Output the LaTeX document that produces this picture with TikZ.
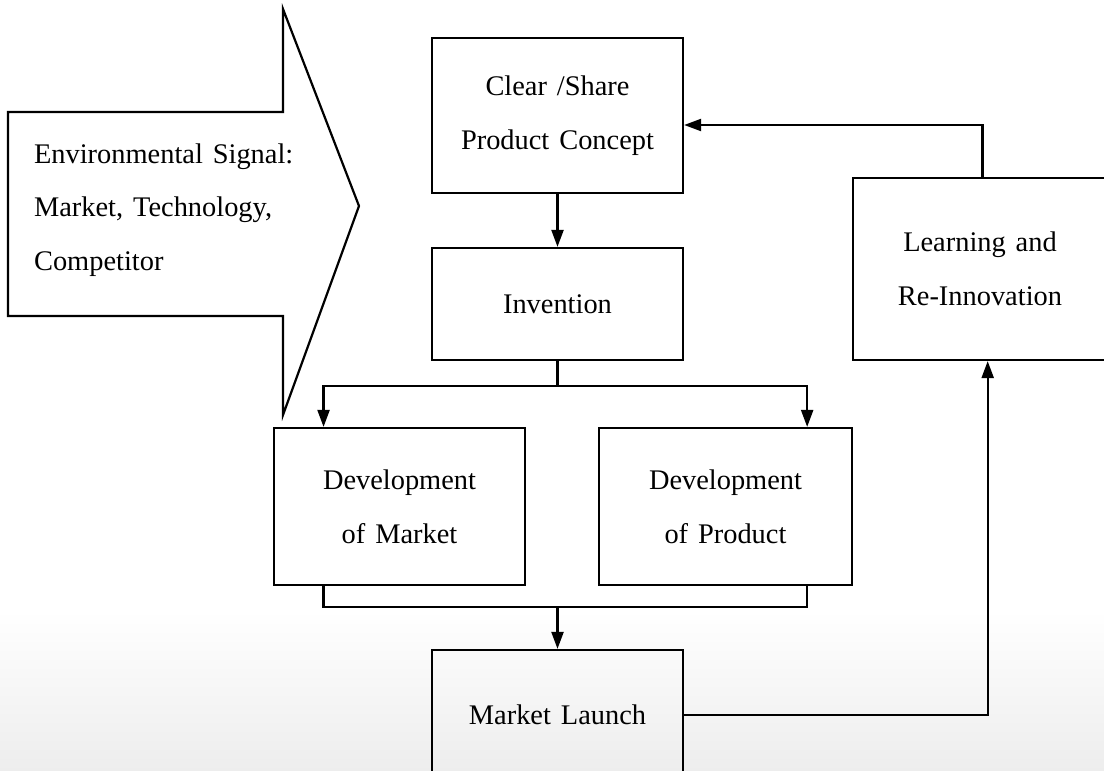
\documentclass[tikz,border=0pt]{standalone}
\usepackage{fontspec}
\setmainfont{Liberation Serif}[WordSpace=1.4]
\usetikzlibrary{arrows.meta,calc}

\begin{document}
\begin{tikzpicture}[
    x=0.5pt, y=-0.5pt,
    line width=1.1pt,
    txt/.style={font=\fontsize{14.2pt}{26.8pt}\selectfont, align=center},
    stagebox/.style={draw, rectangle, inner sep=0pt, txt},
    arr/.style={-{Triangle[length=8.5pt,width=6pt]}},
  ]
  % canvas and clipping frame
  \useasboundingbox (0,0) rectangle (1104,771);
  \clip (0,0) rectangle (1104,771);
  \fill[white] (0,0) rectangle (1104,771);
  \shade[top color=white, bottom color=black!7] (0,610) rectangle (1104,771);

  % environmental signal block arrow
  \draw (8,112) -- (283,112) -- (283,9) -- (359,206) -- (283,415)
        -- (283,316) -- (8,316) -- cycle;
  \node[txt, align=left, anchor=west, inner sep=0pt] (env) at (33,210)
    {Environmental Signal:\\Market, Technology,\\Competitor};

  % process stages (sizes in pt, half of the pixel sizes)
  \node[stagebox, minimum width=125.5pt, minimum height=77.5pt] (clear) at (557.5,115.5)
    {Clear /Share\\Product Concept};
  \node[stagebox, minimum width=125.5pt, minimum height=56pt] (inv) at (557.5,304)
    {Invention};
  \node[stagebox, minimum width=125.5pt, minimum height=78.5pt] (devm) at (399.5,506.5)
    {Development\\of Market};
  \node[stagebox, minimum width=126.5pt, minimum height=78.5pt] (devp) at (725.5,506.5)
    {Development\\of Product};
  \node[stagebox, minimum width=125.5pt, minimum height=65pt] (launch) at (557.5,715)
    {Market Launch};
  \node[stagebox, minimum width=127pt, minimum height=91pt] (learn) at (980,269)
    {Learning and\\Re-Innovation};

  % concept -> invention
  \draw[arr] (clear) -- (inv);

  % invention splits into the two development tracks
  \coordinate (split) at ($(inv.south)+(0,25)$);
  \draw (inv.south) -- (split);
  \draw[arr] (split) -| ($(devm.north west)!0.2!(devm.north east)$);
  \draw[arr] (split) -| ($(devp.north east)!0.18!(devp.north west)$);

  % development tracks merge into the launch
  \coordinate (merge) at ($(launch.north)+(0,-42)$);
  \draw ($(devm.south west)!0.2!(devm.south east)$) |- (merge)
        -| ($(devp.south east)!0.18!(devp.south west)$);
  \draw[arr] (merge) -- (launch.north);

  % feedback loop
  \draw[arr] (launch.east) -| ($(learn.south west)!0.53!(learn.south east)$);
  \draw[arr] ($(learn.north west)!0.51!(learn.north east)$) |- ($(clear.east)+(0,9.5)$);
\end{tikzpicture}
\end{document}
